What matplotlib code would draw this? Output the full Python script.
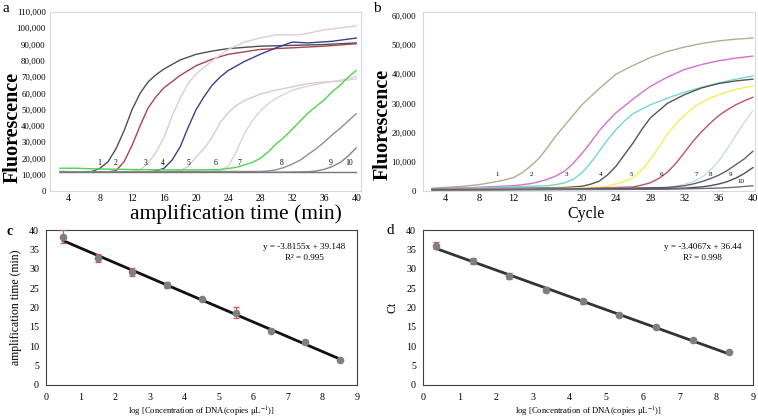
import numpy as np
import matplotlib
matplotlib.use("Agg")
from matplotlib import pyplot as plt
from matplotlib.ticker import FuncFormatter

plt.rcParams['font.family'] = ['Liberation Serif', 'DejaVu Serif']
plt.rcParams['mathtext.fontset'] = 'stix'

# ---- panel a: fluorescence vs amplification time (values in thousands) ----
a_t = [
    [3, 5, 7, 8, 9, 10, 11, 12, 13, 14, 15, 16, 18, 20, 22, 24, 28, 32, 36, 40],
    [3, 6, 9, 10, 11, 12, 13, 14, 15, 16, 18, 20, 22, 24, 26, 28, 32, 36, 40],
    [3, 8, 12, 13, 14, 15, 16, 17, 18, 19, 20, 21, 22, 24, 26, 28, 30, 33, 36, 40],
    [3, 8, 14, 15, 16, 17, 18, 19, 20, 21, 22, 23, 24, 26, 28, 30, 32, 34, 37, 40],
    [3, 10, 17, 18, 19, 20, 21, 22, 23, 24, 25, 26, 28, 30, 32, 34, 36, 38, 40],
    [3, 10, 22, 23, 24, 25, 26, 27, 28, 29, 30, 32, 34, 36, 38, 40],
    [3, 5, 8, 12, 16, 20, 23, 25, 27, 28, 29, 30, 31, 32, 33, 34, 35, 36, 37, 38, 39, 40],
    [3, 10, 20, 28, 29, 30, 31, 32, 33, 34, 35, 36, 37, 38, 39, 40],
    [3, 10, 20, 30, 34, 35, 36, 37, 38, 39, 40],
    [3, 20, 40],
]
a_f = [
    [12, 11.8, 12, 14, 18, 26, 37, 50, 60, 67, 71.5, 75, 80.5, 84, 86, 87.5, 89, 89.5, 90, 91],
    [11.8, 11.5, 11.8, 12.5, 18, 28, 40, 51, 58, 63.5, 71, 77, 81, 84, 85.5, 87, 88, 89, 90.5],
    [11.8, 11.8, 12, 13, 17, 24, 33, 46, 57, 66, 72, 76, 80, 87, 91.5, 94, 96, 96, 99, 101.5],
    [11.5, 11.5, 11.8, 12.3, 14, 19, 27, 39, 50, 58, 65, 70, 74, 79.5, 84, 88, 91.5, 91, 92, 94],
    [11.8, 11.8, 12, 12.5, 15, 21, 26, 33, 42, 48, 52.5, 55.5, 59.5, 62, 64, 66, 67, 67.5, 69],
    [11.8, 11.8, 12, 13, 15, 24, 35, 43, 49, 53.5, 57, 62, 64.5, 66.5, 68, 70.5],
    [14, 14, 13.5, 13.2, 13, 13, 13.2, 14.5, 17.5, 20, 24, 29, 33, 38, 43, 48, 52, 56, 61, 65, 70, 74],
    [11.8, 11.8, 12, 12, 12.3, 13, 14.5, 16.5, 19, 22.5, 26, 30, 34.5, 38.5, 43, 47.5],
    [11.5, 11.5, 11.5, 11.5, 11.8, 12.3, 13.3, 15, 17.5, 21.5, 26.5],
    [11.9, 11.9, 11.9],
]
a_label_t = [7.9, 9.9, 13.7, 15.8, 19.0, 22.4, 25.4, 30.7, 36.8, 39.1]
a_label_f = [17, 17, 17, 17, 17, 17, 17, 17, 17, 17]
a_colors = ['#4b4f5c', '#a8454f', '#e3c9d2', '#3e3f8a', '#d9c9d1', '#dcd2da',
            '#4cd64c', '#8c8c9c', '#8a7c92', '#777777']

# ---- panel b: fluorescence vs cycle (values in thousands) ----
b_t = [
    [2.5, 4, 6, 8, 10, 11, 12, 13, 14, 15, 16, 17, 18, 19, 20, 22, 24, 26, 28, 30, 32, 34, 36, 38, 40],
    [2.5, 8, 12, 14, 15, 16, 17, 18, 19, 20, 21, 22, 23, 24, 26, 28, 30, 32, 34, 36, 38, 40],
    [2.5, 10, 16, 17, 18, 19, 20, 21, 22, 23, 24, 25, 26, 28, 30, 32, 34, 36, 38, 40],
    [2.5, 10, 18, 20, 21, 22, 23, 24, 25, 26, 27, 28, 30, 32, 34, 36, 38, 40],
    [2.5, 10, 20, 23, 24, 25, 26, 27, 28, 29, 30, 31, 32, 33, 34, 36, 38, 40],
    [2.5, 10, 20, 26, 27, 28, 29, 30, 31, 32, 33, 34, 35, 36, 37, 38, 39, 40],
    [2.5, 20, 30, 31, 32, 33, 34, 35, 36, 37, 38, 39, 40],
    [2.5, 20, 30, 32, 33, 34, 35, 36, 37, 38, 39, 40],
    [2.5, 20, 32, 34, 35, 36, 37, 38, 39, 40],
    [2.5, 30, 36, 38, 40],
]
b_f = [
    [0.9, 1.2, 1.6, 2.2, 3.2, 3.8, 4.6, 6.2, 8.5, 11.2, 15, 19, 22.5, 26, 29.5, 35, 40, 43, 45.7, 47.8, 49.3, 50.5, 51.4, 52, 52.4],
    [0.8, 1.3, 1.8, 2.5, 3.2, 4, 5.2, 6.8, 9.5, 12.8, 16.5, 20.5, 23.8, 26.8, 31.5, 35.8, 39, 41.6, 43.3, 44.6, 45.5, 46.2],
    [0.7, 1.2, 1.8, 2.2, 2.8, 4, 6.2, 9.5, 13.5, 17.5, 21, 24, 26.5, 29.5, 31.8, 33.8, 35.5, 37, 38.3, 39.4],
    [0.6, 0.8, 1.2, 1.6, 2.3, 3.3, 5.5, 8.5, 12.5, 16.5, 21, 25, 30, 33, 35.3, 36.8, 37.7, 38.3],
    [0.5, 0.7, 1, 1.6, 2.4, 3.3, 4.6, 7.2, 10.8, 15, 19.5, 23, 26, 28.5, 30.4, 33, 34.8, 36],
    [0.5, 0.6, 0.8, 1.4, 2, 2.8, 4.3, 6.4, 9.5, 13.2, 17, 20.3, 23.2, 25.8, 27.8, 29.5, 30.9, 32.1],
    [0.4, 0.7, 1.2, 1.6, 2.3, 3.2, 4.6, 7, 10.2, 14.5, 19, 23.5, 27.5],
    [0.4, 0.7, 1.2, 1.8, 2.4, 3.2, 4.2, 5.4, 7, 9, 11, 13.6],
    [0.4, 0.6, 1, 1.4, 1.8, 2.4, 3.2, 4.4, 6, 8],
    [0.3, 0.6, 1.0, 1.3, 1.8],
]
b_label_t = [10.1, 14.1, 18.2, 22.2, 25.8, 29.3, 33.4, 35.1, 37.4, 38.6]
b_label_f = [5.5, 5.5, 5.5, 5.5, 5.5, 5.5, 5.5, 5.5, 5.5, 3.4]
b_colors = ['#b8aa8c', '#d46fd4', '#74d6cf', '#555555', '#f2ee5a', '#c25262',
            '#c9dde2', '#5e5e6e', '#4e4e60', '#6e6e80']

# ---- panel c: standard curve, amplification time ----
c_logc = [0.5, 1.5, 2.5, 3.5, 4.5, 5.5, 6.5, 7.5, 8.5]
c_time = [38.3, 32.8, 29.2, 25.8, 22.2, 18.7, 14.0, 11.2, 6.5]
c_err = [1.6, 1.0, 1.0, 0.7, 0.3, 1.5, 0.2, 0.2, 0.2]
c_slope, c_icpt = -3.8155, 39.148

# ---- panel d: standard curve, Ct ----
d_logc = [0.35, 1.35, 2.35, 3.35, 4.35, 5.35, 6.35, 7.35, 8.35]
d_ct = [36.0, 32.0, 28.2, 24.6, 21.6, 18.0, 14.9, 11.6, 8.4]
d_err = [0.9, 0.9, 0.8, 0.6, 0.6, 0.2, 0.2, 0.2, 0.2]
d_slope, d_icpt = -3.4067, 36.44

W, H = 758, 418
fig = plt.figure(figsize=(W / 100, H / 100), dpi=100)


def box(l, t, r, b):
    return [l / W, 1 - b / H, (r - l) / W, (b - t) / H]


comma = FuncFormatter(lambda v, p: '{:,.0f}'.format(v))

# panel a
ax = fig.add_axes(box(50, 12, 361, 191))
for t, f, c in zip(a_t, a_f, a_colors):
    ax.plot(t, np.array(f) * 1000, color=c, lw=1.0)
for i, (t, f) in enumerate(zip(a_label_t, a_label_f)):
    ax.text(t, f * 1000, str(i + 1), fontsize=5.5, ha='center', va='center')
ax.set_xlim(1.75, 40.6)
ax.set_ylim(0, 110000)
ax.set_xticks(range(4, 41, 4))
ax.set_yticks(range(0, 110001, 10000))
ax.yaxis.set_major_formatter(comma)
ax.tick_params(length=0, labelsize=6.3, pad=3)
ax.tick_params(axis='x', labelsize=7, pad=2)
for s in ax.spines.values():
    s.set_color('#d9d9d9')
    s.set_linewidth(0.8)
fig.text(236 / W, 1 - 214 / H, 'amplification time (min)', fontsize=15.5, ha='center', va='center')
fig.text(13 / W, 1 - 127 / H, 'Fluorescence', fontsize=14.5, fontweight='bold',
         rotation=90, ha='center', va='center')
fig.text(6 / W, 1 - 8 / H, 'a', fontsize=11, ha='center', va='center')

# panel b
ax = fig.add_axes(box(423, 12, 755, 191))
for t, f, c in zip(b_t, b_f, b_colors):
    ax.plot(t, np.array(f) * 1000, color=c, lw=1.0)
for i, (t, f) in enumerate(zip(b_label_t, b_label_f)):
    ax.text(t, f * 1000, str(i + 1), fontsize=5, ha='center', va='center')
ax.set_xlim(1.43, 40.25)
ax.set_ylim(0, 61300)
ax.set_xticks(range(4, 41, 4))
ax.set_yticks(range(0, 60001, 10000))
ax.yaxis.set_major_formatter(comma)
ax.tick_params(length=0, labelsize=6.3, pad=5)
ax.tick_params(axis='x', labelsize=7.5, pad=2)
for s in ax.spines.values():
    s.set_color('#d9d9d9')
    s.set_linewidth(0.8)
fig.text(586 / W, 1 - 214 / H, 'Cycle', fontsize=11.5, ha='center', va='center')
fig.text(383 / W, 1 - 124 / H, 'Fluorescence', fontsize=14.5, fontweight='bold',
         rotation=90, ha='center', va='center')
fig.text(377 / W, 1 - 8 / H, 'b', fontsize=11, ha='center', va='center')


def std_panel(rect, x, y, err, slope, icpt, ylabel, eq, r2, eqx, lcol):
    ax = fig.add_axes(rect)
    xs = np.array([x[0], x[-1]])
    ax.plot(xs, slope * xs + icpt, color=lcol, lw=2.0, zorder=2)
    ax.errorbar(x, y, yerr=err, fmt='none', ecolor='#d9534f', elinewidth=0.9,
                capsize=2, capthick=0.9, zorder=3)
    ax.plot(x, y, 'o', color='#7f7f7f', ms=4.5, zorder=4)
    ax.set_xlim(0, 9)
    ax.set_ylim(0, 40)
    ax.set_xticks(range(0, 10))
    ax.set_yticks(range(0, 41, 5))
    ax.tick_params(length=0, labelsize=7.2, pad=6)
    ax.tick_params(axis='y', pad=5)
    for s in ax.spines.values():
        s.set_color('#404040')
        s.set_linewidth(0.8)
    ax.text(eqx, 35.7, eq, fontsize=6.6, ha='center', va='center')
    ax.text(eqx, 32.9, r2, fontsize=6.6, ha='center', va='center')
    ax.set_xlabel('log [Concentration of DNA(copies \u03bcL$^{-1}$)]', fontsize=6.2, labelpad=2)
    ax.set_ylabel(ylabel, fontsize=8.5, labelpad=5)
    return ax


std_panel(box(46, 230, 357, 385), c_logc, c_time, c_err, c_slope, c_icpt,
          'amplification time (min)', 'y = -3.8155x + 39.148', 'R\u00b2 = 0.995', 7.47, '#111111')
fig.text(10 / W, 1 - 231 / H, 'c', fontsize=10, fontweight='bold', ha='center', va='center')

std_panel(box(423, 230, 753, 385), d_logc, d_ct, d_err, d_slope, d_icpt,
          'Ct', 'y = -3.4067x + 36.44', 'R\u00b2 = 0.998', 7.62, '#333333')
fig.text(390 / W, 1 - 230 / H, 'd', fontsize=11, ha='center', va='center')

fig.savefig('out.png', dpi=100)
